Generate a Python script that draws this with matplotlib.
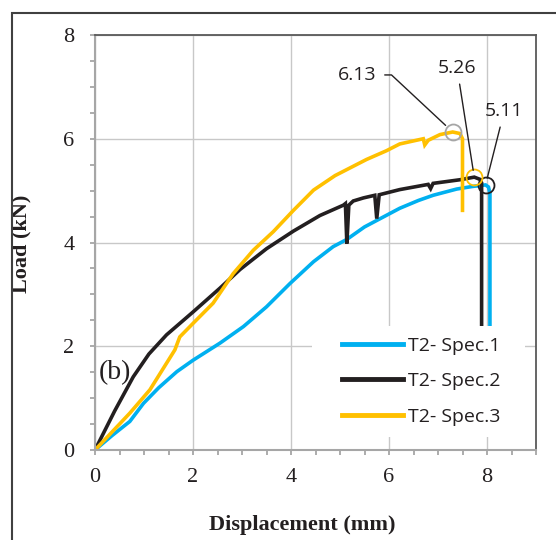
"""Load vs displacement curves, T2 specimens (panel b)."""
import numpy as np
import matplotlib
matplotlib.use("Agg")
import matplotlib.pyplot as plt
from matplotlib.patches import Rectangle

# ── data ─────────────────────────────────────────────────────────────────────
spec1_x = [0, 0.35, 0.71, 0.99, 1.3, 1.67, 2.0, 2.55, 3.03, 3.5, 3.98, 4.46,
           4.86, 5.14, 5.5, 5.82, 6.22, 6.6, 6.9, 7.38, 7.7, 7.97, 8.03, 8.06, 8.06]
spec1_y = [0, 0.28, 0.55, 0.9, 1.2, 1.51, 1.73, 2.06, 2.38, 2.76, 3.21, 3.63,
           3.92, 4.06, 4.30, 4.46, 4.66, 4.81, 4.91, 5.03, 5.08, 5.11, 5.07, 4.95, 2.3]

spec2_x = [0, 0.4, 0.78, 1.1, 1.46, 2.0, 2.55, 2.96, 3.5, 4.05, 4.59, 5.07,
           5.11, 5.14, 5.18, 5.27, 5.48, 5.71, 5.75, 5.80, 6.22, 6.8, 6.85,
           6.9, 7.45, 7.74, 7.85, 7.89, 7.89]
spec2_y = [0, 0.75, 1.41, 1.85, 2.22, 2.66, 3.12, 3.48, 3.88, 4.22, 4.52, 4.72,
           4.75, 3.98, 4.72, 4.80, 4.86, 4.91, 4.46, 4.92, 5.02, 5.12, 5.04,
           5.14, 5.21, 5.26, 5.22, 5.15, 2.3]

spec3_x = [0, 0.71, 1.12, 1.63, 1.73, 2.0, 2.41, 2.82, 3.23, 3.64, 4.05, 4.46,
           4.9, 5.54, 5.95, 6.22, 6.70, 6.73, 6.80, 7.04, 7.30, 7.45, 7.50, 7.50]
spec3_y = [0, 0.71, 1.16, 1.93, 2.18, 2.44, 2.83, 3.40, 3.85, 4.21, 4.62, 5.01,
           5.29, 5.60, 5.77, 5.90, 6.00, 5.88, 5.97, 6.08, 6.13, 6.10, 6.00, 4.62]

labels = ["T2- Spec.1", "T2- Spec.2", "T2- Spec.3"]
colors = ["#00b0f0", "#231f20", "#ffc000"]
ring_colors = ["#231f20", "#ffc000", "#a6a6a6"]   # circle drawn round each peak
series = [(spec1_x, spec1_y), (spec2_x, spec2_y), (spec3_x, spec3_y)]

# text positions of the peak call-outs (data coords)
label_pos = [(8.35, 6.53), (7.39, 7.36), (5.35, 7.23)]

# ── palette ──────────────────────────────────────────────────────────────────
SPINE_DARK = "#595959"
SPINE_LITE = "#a6a6a6"
GRID = "#c8c8c8"
TXT = "#231f20"
SERIF = "Liberation Serif"
SANS = "Open Sans"

fig = plt.figure(figsize=(5.56, 5.40), dpi=100, facecolor="white")
ax = fig.add_axes([95 / 556, 1 - 450 / 540, 441 / 556, 415 / 540])

lines = []
for (xs, ys), c, lab in zip(series, colors, labels):
    ln, = ax.plot(xs, ys, color=c, lw=2.6, solid_joinstyle="miter", zorder=2, label=lab)
    lines.append(ln)

# peak rings + call-outs
for (xs, ys), rc, (tx, ty) in zip(series, ring_colors, label_pos):
    i = int(np.argmax(ys))
    px, py = xs[i], ys[i]
    ax.plot(px, py, "o", ms=11.5, mfc="none", mec=rc, mew=1.3, zorder=4)
    if tx < 6:
        conn = "angle,angleA=0,angleB=-43,rad=0"
        ax.annotate(f"{py:.2f}", xy=(px, py), xytext=(tx, ty),
                    fontsize=14, family=SANS, color=TXT, ha="center", va="center",
                    arrowprops=dict(arrowstyle="-", color=TXT, lw=1.0,
                                    connectionstyle=conn, relpos=(1, 0.5),
                                    shrinkA=4, shrinkB=7), zorder=5)
    else:
        ax.annotate(f"{py:.2f}", xy=(px, py), xytext=(tx, ty),
                    fontsize=14, family=SANS, color=TXT, ha="center", va="center",
                    arrowprops=dict(arrowstyle="-", color=TXT, lw=1.0,
                                    shrinkA=3, shrinkB=5), zorder=5)

# white block behind the legend (hides the tails of the curves)
ax.add_patch(Rectangle((0.492, 0.031), 0.483, 0.268, transform=ax.transAxes,
                       facecolor="white", edgecolor="none", zorder=3))
leg = ax.legend(handles=lines, loc="center left", bbox_to_anchor=(0.56, 0.166),
                frameon=False, borderpad=0, borderaxespad=0,
                handlelength=3.15, handletextpad=0.25, labelspacing=0.9,
                prop={"family": SANS, "size": 14})
leg.set_zorder(6)
for h in leg.legend_handles:
    h.set_linewidth(3.5)
for t in leg.get_texts():
    t.set_color(TXT)

ax.text(0.08, 1.5, "(b)", fontsize=20, family=SERIF, color=TXT, ha="left", va="center", zorder=5)

# ── axes styling ─────────────────────────────────────────────────────────────
ax.set_xlim(0, 9)
ax.set_ylim(0, 8)
ax.set_xticks([0, 2, 4, 6, 8])
ax.set_yticks([0, 2, 4, 6, 8])
ax.set_xticks(np.arange(0, 9.01, 0.5), minor=True)
ax.set_yticks(np.arange(0, 8.01, 0.5), minor=True)
ax.grid(True, which="major", color=GRID, lw=1.0, zorder=0)
ax.set_axisbelow(True)
ax.tick_params(which="both", direction="out", length=3.8, width=1.3, color=SPINE_LITE,
               top=False, right=False)
ax.tick_params(axis="y", which="major", pad=11, labelsize=16, labelcolor=TXT)
ax.tick_params(axis="x", which="major", pad=9, labelsize=16, labelcolor=TXT)
for lab in ax.get_xticklabels() + ax.get_yticklabels():
    lab.set_family(SERIF)

for side in ("left", "bottom"):
    ax.spines[side].set_color(SPINE_LITE)
    ax.spines[side].set_linewidth(1.5)
for side in ("top", "right"):
    ax.spines[side].set_color(SPINE_DARK)
    ax.spines[side].set_linewidth(1.3)

ax.set_xlabel("Displacement (mm)", fontsize=16, fontweight="bold", family=SERIF, color=TXT)
ax.set_ylabel("Load (kN)", fontsize=16, fontweight="bold", family=SERIF, color=TXT)
ax.xaxis.set_label_coords(0.47, -0.157)
ax.yaxis.set_label_coords(-0.143, 0.496)

# outer frame (only top and left edges fall inside the image)
fig.add_artist(Rectangle((12 / 556, -0.1), 1.2, 1 - 13 / 540 + 0.1,
                         transform=fig.transFigure, facecolor="none",
                         edgecolor="#404040", lw=1.5, clip_on=False))

fig.savefig("out.png", dpi=100, facecolor="white")
plt.close(fig)
